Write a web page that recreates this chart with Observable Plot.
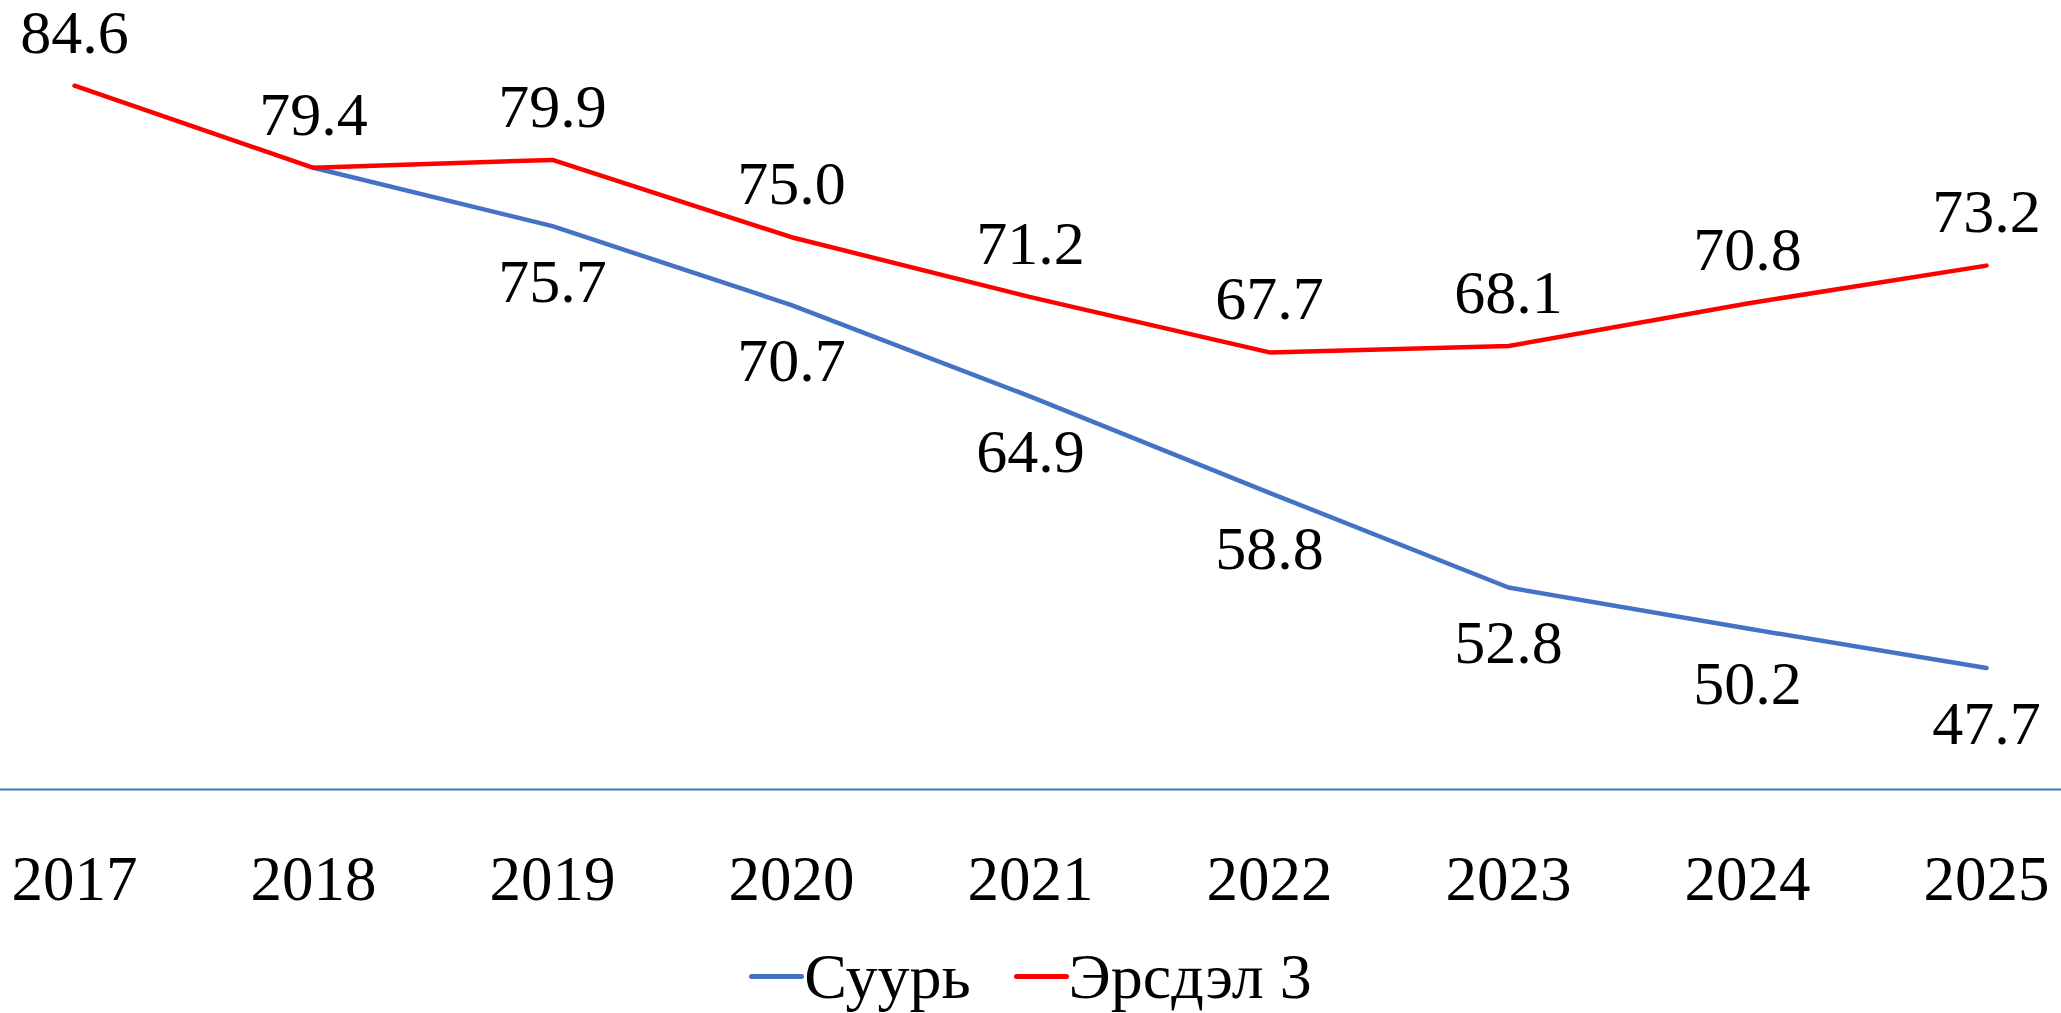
<!DOCTYPE html>
<html>
<head>
<meta charset="utf-8">
<script src="https://cdn.jsdelivr.net/npm/d3@7"></script>
<script src="https://cdn.jsdelivr.net/npm/@observablehq/plot@0.6"></script>
<style>
  html, body { margin: 0; padding: 0; background: #fff; }
  body { width: 2061px; height: 1013px; overflow: hidden; font-family: "Liberation Serif", serif; }
  #legend { display: flex; justify-content: center; align-items: center; height: 73px; font-size: 64px; color: #000; font-family: "Liberation Serif", serif; }
  .item { display: flex; align-items: center; }
  .sw { display: inline-block; width: 55px; height: 5px; border-radius: 3px; }
  .gap { width: 43px; }
  svg text { font-family: "Liberation Serif", serif; }
</style>
</head>
<body>
<div id="chart"></div>
<div id="legend"></div>
<script>
const years = [2017, 2018, 2019, 2020, 2021, 2022, 2023, 2024, 2025];
const suurValues = [null, 79.4, 75.7, 70.7, 64.9, 58.8, 52.8, 50.2, 47.7];
const ersdelValues = [84.6, 79.4, 79.9, 75.0, 71.2, 67.7, 68.1, 70.8, 73.2];
const seriesNames = ["Суурь", "Эрсдэл 3"];
const seriesColors = ["#4472C4", "#FF0000"];
const labelledSuurYears = [2019, 2020, 2021, 2022, 2023, 2024, 2025];

const suur = years.map((year, i) => ({year, value: suurValues[i], series: seriesNames[0]})).filter(d => d.value != null);
const ersdel = years.map((year, i) => ({year, value: ersdelValues[i], series: seriesNames[1]}));
const suurLabels = suur.filter(d => labelledSuurYears.includes(d.year));

const W = 2061, H = 940;
const font = "'Liberation Serif', serif";

const chart = Plot.plot({
  width: W,
  height: H,
  marginLeft: 0,
  marginRight: 0,
  marginTop: 0,
  marginBottom: H - 789,
  style: {fontFamily: font, background: "#fff", color: "#000", overflow: "visible"},
  x: {type: "point", domain: years, range: [73, 1986], padding: 0, label: null},
  y: {domain: [40, 90], range: [789, 0], axis: null},
  marks: [
    Plot.ruleY([40], {stroke: "#4472C4", strokeWidth: 1.8}),
    Plot.axisX({tickSize: 0, tickPadding: 66, fontSize: 63, fontFamily: font, fill: "#000", label: null, tickFormat: d => String(d)}),
    Plot.line(suur, {x: "year", y: "value", stroke: seriesColors[0], strokeWidth: 4.5, strokeLinecap: "round", strokeLinejoin: "round"}),
    Plot.line(ersdel, {x: "year", y: "value", stroke: seriesColors[1], strokeWidth: 4.5, strokeLinecap: "round", strokeLinejoin: "round"}),
    Plot.text(ersdel, {x: "year", y: "value", text: d => d.value.toFixed(1), dy: -53, lineAnchor: "middle", fontSize: 62, fontFamily: font, fill: "#000"}),
    Plot.text(suurLabels, {x: "year", y: "value", text: d => d.value.toFixed(1), dy: 56, lineAnchor: "middle", fontSize: 62, fontFamily: font, fill: "#000"})
  ]
});
document.getElementById("chart").appendChild(chart);

const legend = document.getElementById("legend");
seriesNames.forEach((name, i) => {
  if (i > 0) { const g = document.createElement("span"); g.className = "gap"; legend.appendChild(g); }
  const item = document.createElement("span");
  item.className = "item";
  const sw = document.createElement("span");
  sw.className = "sw";
  sw.style.background = seriesColors[i];
  const t = document.createElement("span");
  t.textContent = name;
  item.appendChild(sw);
  item.appendChild(t);
  legend.appendChild(item);
});
</script>
</body>
</html>
